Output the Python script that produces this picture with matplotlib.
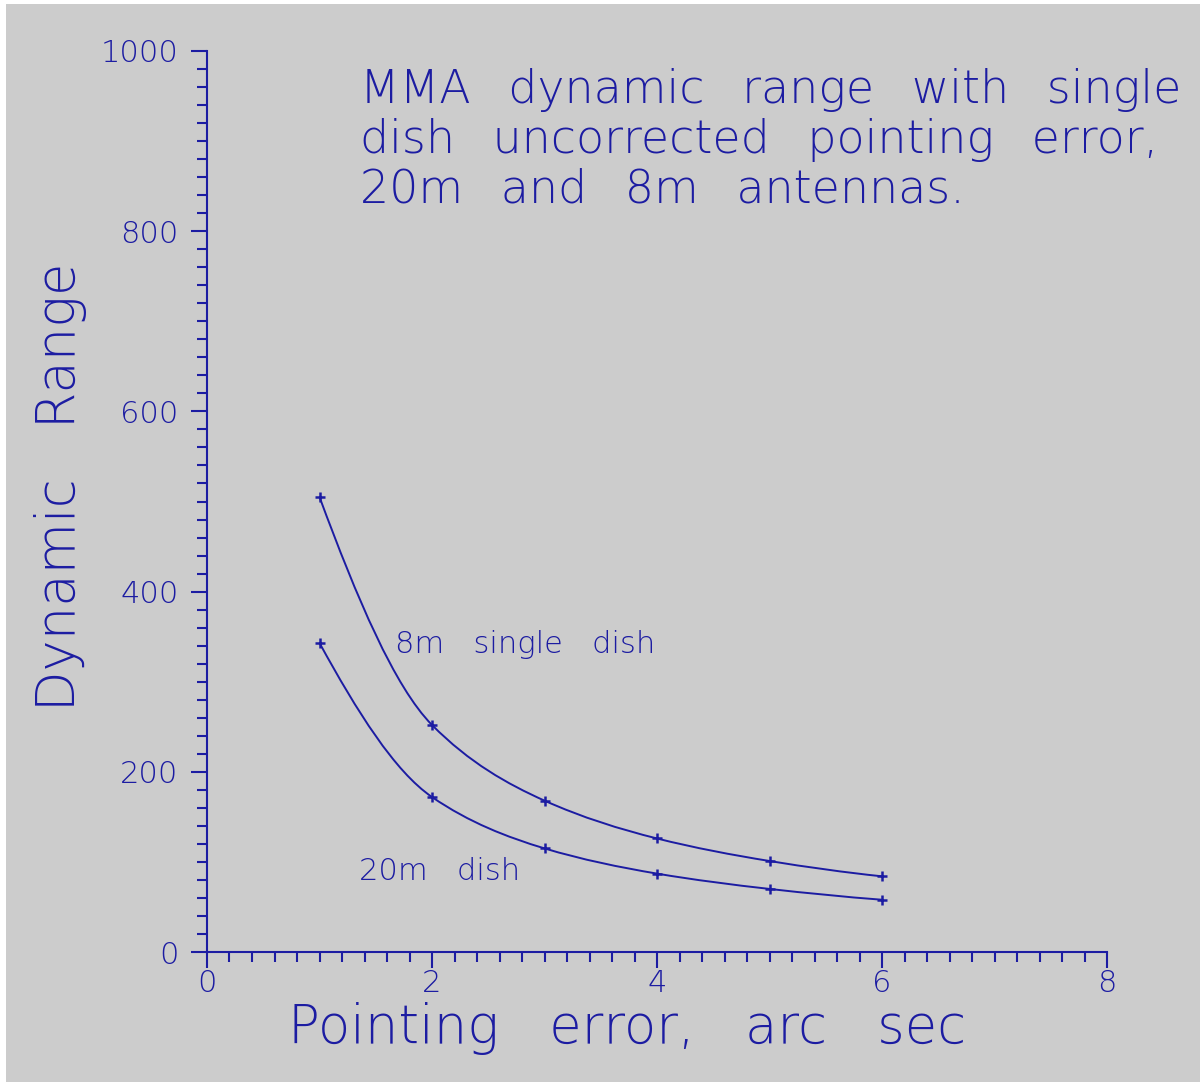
import numpy as np
import matplotlib
matplotlib.use("Agg")
import matplotlib.pyplot as plt
from matplotlib.path import Path
from matplotlib.patches import PathPatch, Rectangle
from matplotlib.ticker import MultipleLocator

# values
pointing_error = [1, 2, 3, 4, 5, 6]
range_8m = [505, 252, 168, 126, 101, 84]
range_20m = [343, 172, 115, 87, 70, 58]

x_ticks = [0, 2, 4, 6, 8]
y_ticks = [0, 200, 400, 600, 800, 1000]

blue = "#1c1ca2"
grey = "#cccccc"
font = "DejaVu Sans"
gap = " \u2002"   # space + en space, the original has wide word gaps


def smooth_path(xs, ys):
    # cubic hermite through the points (pchip-style slopes), drawn as bezier segments
    x = np.asarray(xs, float)
    y = np.asarray(ys, float)
    h = np.diff(x)
    d = np.diff(y) / h
    m = np.zeros_like(y)
    for i in range(1, len(y) - 1):
        if d[i - 1] * d[i] > 0:
            m[i] = 2 / (1 / d[i - 1] + 1 / d[i])
    m[0] = ((2 * h[0] + h[1]) * d[0] - h[0] * d[1]) / (h[0] + h[1])
    m[-1] = ((2 * h[-1] + h[-2]) * d[-1] - h[-1] * d[-2]) / (h[-1] + h[-2])
    verts = [(x[0], y[0])]
    codes = [Path.MOVETO]
    for i in range(len(x) - 1):
        k = h[i] / 3
        verts += [(x[i] + k, y[i] + k * m[i]), (x[i + 1] - k, y[i + 1] - k * m[i + 1]),
                  (x[i + 1], y[i + 1])]
        codes += [Path.CURVE4] * 3
    return Path(verts, codes)


fig = plt.figure(figsize=(12, 10.82), dpi=100, facecolor="white")
fig.patches.append(Rectangle((6 / 1200, 0), 1, 1 - 4 / 1082, transform=fig.transFigure,
                             facecolor=grey, edgecolor="none", zorder=-10))

ax = fig.add_axes([207 / 1200, 1 - 952 / 1082, 900 / 1200, 901 / 1082])
ax.set_facecolor("none")
ax.set_xlim(0, 8)
ax.set_ylim(0, 1000)

for ys in (range_8m, range_20m):
    ax.add_patch(PathPatch(smooth_path(pointing_error, ys), facecolor="none",
                           edgecolor=blue, lw=1.4, clip_on=False))
    ax.plot(pointing_error, ys, linestyle="none", marker="+", ms=7, mew=1.8, color=blue)

for s in ("top", "right"):
    ax.spines[s].set_visible(False)
for s in ("left", "bottom"):
    ax.spines[s].set_color(blue)
    ax.spines[s].set_linewidth(1.5)

ax.set_xticks(x_ticks)
ax.set_yticks(y_ticks)
ax.xaxis.set_minor_locator(MultipleLocator(0.2))
ax.yaxis.set_minor_locator(MultipleLocator(20))
ax.tick_params(which="major", direction="out", length=11.5, width=1.5, color=blue,
               labelcolor=blue, labelsize=22)
ax.tick_params(which="minor", direction="out", length=7.2, width=1.5, color=blue)
ax.tick_params(axis="x", pad=0.5)
ax.tick_params(axis="y", pad=9)
for lab in ax.get_xticklabels() + ax.get_yticklabels():
    lab.set_family(font)
    lab.set_fontweight("light")

ax.text(1.67, 332, "8m   single   dish", color=blue, fontsize=22, family=font,
        fontweight="light", va="baseline", ha="left")
ax.text(1.35, 80, "20m   dish", color=blue, fontsize=22, family=font,
        fontweight="light", va="baseline", ha="left")

title_lines = ["MMA dynamic range with single",
               "dish uncorrected pointing error,",
               "20m and 8m antennas."]
fig.text(360 / 1200, 1 - 68 / 1082, "\n".join(l.replace(" ", gap) for l in title_lines),
         color=blue, fontsize=33, family=font, fontweight="light", va="top", ha="left",
         linespacing=1.16)

fig.text(627 / 1200, 1 - 1043 / 1082, "Pointing   error,   arc   sec", color=blue, fontsize=38,
         family=font, fontweight="light", va="baseline", ha="center")
fig.text(61 / 1200, 1 - 487 / 1082, "Dynamic   Range", color=blue, fontsize=38, rotation=90,
         family=font, fontweight="light", va="center", ha="center")

fig.savefig("out.png", dpi=100, facecolor=fig.get_facecolor())
